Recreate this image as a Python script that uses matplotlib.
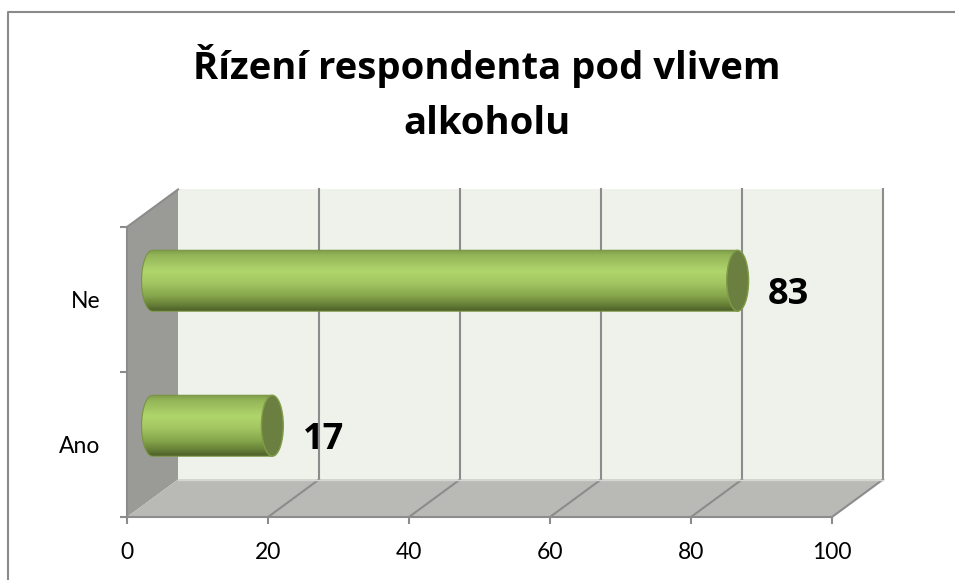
import numpy as np
import matplotlib
matplotlib.use('Agg')
import matplotlib.pyplot as plt
from matplotlib.patches import Polygon, Ellipse, PathPatch
from matplotlib.path import Path
from matplotlib.colors import LinearSegmentedColormap
from matplotlib.lines import Line2D

# data
categories = ['Ano', 'Ne']
values = [17, 83]
xticks = [0, 20, 40, 60, 80, 100]
title_lines = ['Řízení respondenta pod vlivem', 'alkoholu']

plt.rcParams['font.family'] = ['Lato', 'DejaVu Sans']
bold_font = ['Open Sans', 'DejaVu Sans']

W, H = 955, 580
fig = plt.figure(figsize=(W / 100, H / 100), dpi=100)

# front plane of the 3d box
ax = fig.add_axes([127 / W, 63 / H, 705 / W, 290 / H])
ax.set_xlim(0, 100)
ax.set_ylim(0, len(categories))

# depth offset of the back wall, in data units
DX = 51 / 7.05
DY = 37.5 / 145

grid_col = '#8c8c8c'
wall_col = '#eff2ea'
side_col = '#9a9b97'
floor_col = '#b9bab6'

ymax = len(categories)
back = Polygon([(DX, DY), (100 + DX, DY), (100 + DX, ymax + DY), (DX, ymax + DY)],
               closed=True, fc=wall_col, ec='none', clip_on=False, zorder=0)
side = Polygon([(0, 0), (DX, DY), (DX, ymax + DY), (0, ymax)],
               closed=True, fc=side_col, ec='none', clip_on=False, zorder=0)
floor = Polygon([(0, 0), (100, 0), (100 + DX, DY), (DX, DY)],
                closed=True, fc=floor_col, ec='none', clip_on=False, zorder=0)
for p in (back, side, floor):
    ax.add_patch(p)

# grid lines on the back wall and floor
for v in xticks[1:]:
    ax.plot([v + DX, v + DX], [DY, ymax + DY], color=grid_col, lw=1.5,
            clip_on=False, zorder=1)
    ax.plot([v, v + DX], [0, DY], color=grid_col, lw=1.5, clip_on=False, zorder=1)
ax.plot([0, DX], [ymax, ymax + DY], color=grid_col, lw=1.5, clip_on=False, zorder=1)
ax.plot([DX, 100 + DX], [DY, DY], color='#d4d6d0', lw=1, clip_on=False, zorder=1)

# cylinder bars
grad = LinearSegmentedColormap.from_list('bar', [
    (0.00, '#7e9c49'), (0.08, '#93b457'), (0.35, '#b1d56d'), (0.55, '#a2c461'),
    (0.75, '#86a64b'), (0.90, '#667f37'), (1.00, '#4b5e2a')])
bar_h = 0.42
rx = 1.55
gvals = np.linspace(0, 1, 256).reshape(-1, 1)

for i, (cat, v) in enumerate(zip(categories, values)):
    yc = i + 0.5 + DY / 2
    x0 = DX / 2
    x1 = v + DX / 2
    ry = bar_h / 2
    t = np.linspace(np.pi / 2, 3 * np.pi / 2, 40)
    verts = [(x0 + rx * np.cos(a), yc + ry * np.sin(a)) for a in t]
    verts += [(x1, yc - ry), (x1, yc + ry), verts[0]]
    body = PathPatch(Path(verts, closed=True), fc='none', ec='#789541', lw=0.8,
                     transform=ax.transData, zorder=3)
    im = ax.imshow(gvals, cmap=grad, extent=(x0 - rx, x1, yc - ry, yc + ry),
                   origin='upper', aspect='auto', zorder=2)
    im.set_clip_path(body)
    ax.add_patch(body)
    cap = Ellipse((x1, yc), 2 * rx, bar_h, fc='#6b8040', ec='#7f9c48', lw=1, zorder=4)
    ax.add_patch(cap)
    ax.annotate(str(v), (x1 + rx, i + 0.5 + DY / 4), xytext=(14, 0),
                textcoords='offset points', ha='left', va='center_baseline',
                fontsize=26, fontweight='bold', family=bold_font, color='black')

ax.set_xlim(0, 100)
ax.set_ylim(0, ymax)

# axes styling
for s in ('top', 'right'):
    ax.spines[s].set_visible(False)
for s in ('left', 'bottom'):
    ax.spines[s].set_color(grid_col)
    ax.spines[s].set_linewidth(1.5)
    ax.spines[s].set_zorder(1)
ax.set_facecolor('none')

ax.set_xticks(xticks)
ax.set_xticklabels([str(x) for x in xticks])
ax.set_yticks(range(ymax + 1))
ax.set_yticklabels([])
ax.set_yticks([i + 0.5 for i in range(ymax)], minor=True)
ax.set_yticklabels(categories, minor=True)
ax.tick_params(axis='x', length=5, width=1.5, color=grid_col, pad=13, labelsize=16.5)
ax.tick_params(axis='y', which='major', length=5, width=1.5, color=grid_col)
ax.tick_params(axis='y', which='minor', length=0, pad=19, labelsize=16.5)

# title
for k, ypx in enumerate([79, 134]):
    fig.text(487 / W, 1 - ypx / H, title_lines[k], ha='center', va='baseline',
             fontsize=27.5, fontweight='bold', family=bold_font)

# chart border (cut off at right and bottom)
fig.add_artist(Line2D([8 / W, 8 / W, 1.0], [0.0, 1 - 12 / H, 1 - 12 / H],
                      transform=fig.transFigure, color='#8a8a8a', lw=1.5))

fig.savefig('out.png', dpi=100)
